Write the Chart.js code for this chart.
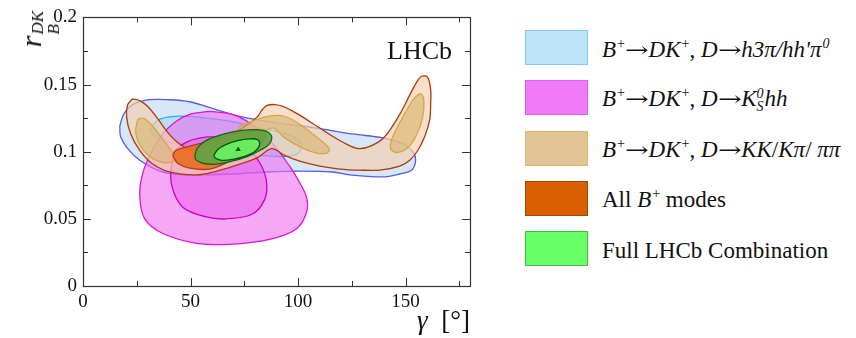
<!DOCTYPE html>
<html>
<head>
<meta charset="utf-8">
<script src="https://cdn.jsdelivr.net/npm/chart.js@4.4.1/dist/chart.umd.min.js"></script>
<style>
  html, body { margin: 0; padding: 0; background: #fff; }
  #wrap { position: relative; width: 856px; height: 338px; font-family: 'Liberation Serif', 'DejaVu Serif', serif; color: #111; }
  #chart { position: absolute; left: 0; top: 0; }
  .ytitle { position: absolute; left: 16px; top: 11px; transform-origin: 0 0; transform: rotate(-90deg) translateX(-100%); font-size: 30px; font-style: italic; white-space: nowrap; line-height: 1; }
  .stack { display: inline-flex; flex-direction: column; font-size: 17px; line-height: 0.95; vertical-align: -2px; margin-left: 1px; }
  .xtitle { position: absolute; right: 386px; top: 305px; font-size: 27px; white-space: nowrap; }
  .lhcb { position: absolute; left: 387px; top: 36px; font-size: 26px; }
  #legend { position: absolute; left: 525px; top: 30px; }
  .row { display: flex; align-items: center; height: 35px; margin-bottom: 15.3px; }
  .sw { width: 61px; height: 33px; border: 1.5px solid; }
  .lab { margin-left: 14px; font-size: 23px; padding-top: 4px; white-space: nowrap; }
  .lab sup { font-size: 14px; vertical-align: 9px; line-height: 0; margin-left: 1px; }
  .ar { display: inline-block; font-family: 'DejaVu Serif', serif; font-size: 21px; font-style: normal; transform: scaleX(1.35); margin: 0 3px; }
  .ks { display: inline-flex; flex-direction: column; font-size: 14px; line-height: 13px; vertical-align: 8px; margin-right: 1px; }
</style>
</head>
<body>
<div id="wrap">
  <canvas id="chart" width="480" height="338"></canvas>
  <div class="ytitle">r<span class="stack"><span>DK</span><span>B</span></span></div>
  <div class="xtitle"><i>γ</i>&nbsp;&nbsp;[°]</div>
  <div class="lhcb">LHCb</div>
  <div id="legend"></div>
</div>
<script>
// axis ticks
const xTickLabels = ['0', '50', '100', '150'];
const yTickLabels = ['0', '0.05', '0.1', '0.15', '0.2'];

// legend entries
const arrow = '<span class="ar">→</span>';
const seriesNames = [
  `<i>B</i><sup>+</sup>${arrow}<i>DK</i><sup>+</sup>, <i>D</i>${arrow}<i>h3π/hh'π</i><sup><i>0</i></sup>`,
  `<i>B</i><sup>+</sup>${arrow}<i>DK</i><sup>+</sup>, <i>D</i>${arrow}<i>K</i><span class="ks"><i>0</i><i>S</i></span><i>hh</i>`,
  `<i>B</i><sup>+</sup>${arrow}<i>DK</i><sup>+</sup>, <i>D</i>${arrow}<i>KK</i>/<i>Kπ</i>/ <i>ππ</i>`,
  'All <i>B</i><sup>+</sup> modes',
  'Full LHCb Combination'
];

// contours, [gamma (deg), r_B]
const h3piOuter = [[17.1,0.119],[18.9,0.1278],[23.1,0.1351],[31.0,0.1387],[40.3,0.1387],[49.6,0.1372],[58.9,0.1329],[72.9,0.1263],[88.2,0.1220],[108.7,0.1176],[125.4,0.1132],[139.4,0.1103],[148.7,0.1060],[153.4,0.1001],[154.7,0.0936],[152.9,0.0863],[147.3,0.0834],[139.4,0.0812],[124.1,0.0827],[116.1,0.0849],[100.8,0.0856],[85.4,0.0849],[69.6,0.0834],[54.3,0.0827],[46.4,0.0827],[35.7,0.0856],[26.4,0.0936],[20.8,0.1023],[17.5,0.1111],[17.1,0.119]];
const h3piInner = [[31.0,0.1154],[34.7,0.1234],[42.7,0.1263],[54.3,0.1256],[68.2,0.1227],[82.2,0.1176],[96.1,0.1125],[101.7,0.1060],[99.9,0.0987],[93.8,0.0965],[82.2,0.0972],[68.2,0.0987],[54.3,0.1016],[42.7,0.1060],[34.3,0.1103],[31.0,0.1154]];
const kshhOuter = [[58.9,0.1300],[49.6,0.1278],[42.7,0.1220],[37.1,0.1132],[31.95,0.1001],[27.8,0.0841],[26.4,0.0674],[28.7,0.0500],[37.1,0.0391],[52.9,0.0318],[68.2,0.0310],[86.8,0.0347],[99.4,0.0427],[104.0,0.0551],[104.0,0.0660],[100.8,0.0769],[96.1,0.0892],[88.2,0.1060],[78.9,0.1198],[69.6,0.1278],[58.9,0.1300]];
const kshhInner = [[57.5,0.1111],[49.6,0.1081],[44.0,0.1023],[41.3,0.0914],[41.3,0.0747],[46.4,0.0587],[57.5,0.0514],[66.8,0.0500],[78.9,0.0536],[84.5,0.0645],[85.4,0.0769],[83.1,0.0892],[78.9,0.0987],[72.9,0.1060],[65.9,0.1103],[57.5,0.1111]];
const glwOuter = [[23.1,0.1394],[26.4,0.1380],[30.1,0.1336],[34.3,0.1256],[38.5,0.1162],[43.1,0.1082],[49.6,0.1016],[56.6,0.1038],[63.6,0.1082],[70.6,0.1140],[77.5,0.1212],[81.3,0.1263],[83.1,0.1307],[85.4,0.1343],[89.2,0.1351],[93.3,0.1336],[99.4,0.1285],[108.7,0.1191],[118.0,0.1096],[124.0,0.1045],[128.7,0.1023],[134.3,0.1045],[140.3,0.1111],[147.3,0.1278],[152.0,0.1423],[155.2,0.1518],[157.5,0.1562],[160.3,0.1554],[161.7,0.1460],[161.7,0.1351],[161.3,0.1241],[158.9,0.1111],[155.7,0.1009],[152.0,0.0936],[147.3,0.0892],[138.0,0.0863],[128.7,0.0863],[119.4,0.0871],[110.1,0.0892],[100.8,0.0929],[93.8,0.0972],[87.8,0.1023],[81.3,0.0958],[72.9,0.0907],[62.2,0.0856],[52.9,0.0827],[40.3,0.0849],[31.95,0.0914],[26.4,0.1009],[22.2,0.1132],[20.3,0.1256],[20.8,0.1351],[23.1,0.1394]];
const glwInnerL = [[25.4,0.1241],[28.2,0.1249],[32.4,0.1191],[36.6,0.1103],[40.3,0.1023],[43.1,0.0965],[42.2,0.0929],[37.1,0.0921],[31.0,0.0965],[26.4,0.1052],[24.5,0.1147],[25.4,0.1241]];
const glwInnerM = [[72.9,0.1191],[79.9,0.1234],[85.9,0.1263],[91.5,0.1270],[96.1,0.1249],[100.8,0.1205],[106.8,0.1132],[111.9,0.1067],[114.7,0.1016],[112.9,0.0987],[107.8,0.0994],[100.8,0.1038],[93.8,0.1103],[88.7,0.1176],[84.5,0.1154],[77.5,0.1140],[71.9,0.1132],[72.9,0.1191]];
const glwInnerR = [[155.2,0.1416],[157.1,0.1431],[158.5,0.1387],[158.0,0.1256],[154.7,0.1111],[150.6,0.1023],[145.9,0.0994],[143.1,0.1023],[144.0,0.1111],[148.7,0.1256],[152.9,0.1372],[155.2,0.1416]];
const allBplus = [[41.7,0.0972],[43.1,0.1009],[47.3,0.1031],[54.3,0.1060],[61.3,0.1089],[70.6,0.1132],[79.9,0.1154],[84.5,0.1147],[84.5,0.1096],[77.5,0.1009],[68.2,0.0929],[58.9,0.0871],[49.6,0.0878],[44.0,0.0914],[41.7,0.0972]];
const combOuter = [[52.0,0.0972],[53.3,0.1031],[57.1,0.1082],[62.7,0.1118],[69.6,0.1147],[76.6,0.1162],[82.2,0.1162],[85.9,0.1147],[87.8,0.1111],[86.8,0.1060],[83.1,0.1016],[76.6,0.0965],[69.2,0.0929],[61.7,0.0907],[55.7,0.0914],[52.4,0.0943],[52.0,0.0972]];
const combInner = [[60.8,0.0972],[62.7,0.1016],[66.4,0.1052],[72.0,0.1082],[77.5,0.1096],[81.3,0.1089],[82.2,0.1052],[79.9,0.1001],[75.2,0.0965],[69.6,0.0943],[64.5,0.0936],[61.7,0.0951],[60.8,0.0972]];
const bestFit = [[72.2, 0.1017]];

const legendColors = [
  ['#bce3f7', '#86c9ee'],
  ['#f07af7', '#e060ea'],
  ['#e0c496', '#e2b46c'],
  ['#d95f00', '#a24800'],
  ['#66ff66', '#4cb84c']
];

// bottom layer first
const layers = [
  [h3piOuter, 'rgba(185,215,245,0.6)', 'rgb(90,90,230)'],
  [h3piInner, 'rgba(150,215,245,0.5)', 'rgb(40,175,230)'],
  [kshhOuter, 'rgba(240,110,240,0.6)', 'rgb(220,20,220)'],
  [kshhInner, 'rgba(235,80,235,0.45)', 'rgb(200,0,200)'],
  [glwOuter, 'rgba(245,208,175,0.68)', 'rgb(170,60,10)'],
  [glwInnerL, 'rgba(215,180,110,0.6)', 'rgb(215,165,70)'],
  [glwInnerM, 'rgba(215,180,110,0.6)', 'rgb(215,165,70)'],
  [glwInnerR, 'rgba(215,180,110,0.6)', 'rgb(215,165,70)'],
  [allBplus, 'rgba(235,110,35,0.92)', 'rgb(180,60,10)'],
  [combOuter, 'rgba(95,165,70,0.9)', 'rgb(20,100,20)'],
  [combInner, 'rgb(105,235,95)', 'rgb(0,90,0)']
];

const datasets = layers.map((l, i) => ({
  data: l[0].map(p => ({x: p[0], y: p[1]})),
  showLine: true,
  fill: 'shape',
  backgroundColor: l[1],
  borderColor: l[2],
  borderWidth: 1.3,
  tension: 0.35,
  pointRadius: 0,
  order: 100 - i
}));
datasets.push({
  data: bestFit.map(p => ({x: p[0], y: p[1]})),
  pointStyle: 'triangle',
  pointRadius: 3,
  backgroundColor: 'rgb(20,80,20)',
  borderColor: 'rgb(20,80,20)',
  borderWidth: 0,
  order: 0
});

// frame and inward ticks on all four sides
const frameTicks = {
  id: 'frameTicks',
  afterDraw(chart) {
    const {ctx, chartArea: a, scales: {x, y}} = chart;
    ctx.save();
    ctx.strokeStyle = '#333';
    ctx.lineWidth = 1;
    ctx.beginPath();
    for (let v = 0; v <= 180; v += 25) {
      const px = Math.round(x.getPixelForValue(v)) + 0.5;
      const len = v % 50 === 0 ? 8 : 5;
      ctx.moveTo(px, a.bottom); ctx.lineTo(px, a.bottom - len);
      ctx.moveTo(px, a.top); ctx.lineTo(px, a.top + len);
    }
    for (let k = 0; k <= 8; k++) {
      const py = Math.round(y.getPixelForValue(k * 0.025)) + 0.5;
      const len = k % 2 === 0 ? 8 : 5;
      ctx.moveTo(a.left, py); ctx.lineTo(a.left + len, py);
      ctx.moveTo(a.right, py); ctx.lineTo(a.right - len, py);
    }
    ctx.stroke();
    ctx.lineWidth = 1.2;
    ctx.strokeRect(Math.round(a.left) + 0.5, Math.round(a.top) + 0.5, Math.round(a.right - a.left), Math.round(a.bottom - a.top));
    ctx.restore();
  }
};

Chart.defaults.font.family = 'Liberation Serif';
const tickFont = { family: 'Liberation Serif', size: 19 };

new Chart(document.getElementById('chart'), {
  type: 'scatter',
  data: { datasets: datasets },
  plugins: [frameTicks],
  options: {
    responsive: false,
    animation: false,
    layout: { padding: { top: 11, right: 10, left: 0, bottom: 0 } },
    plugins: { legend: { display: false }, tooltip: { enabled: false } },
    scales: {
      x: {
        min: 0, max: 180,
        grid: { display: false, drawTicks: false },
        border: { display: false },
        afterFit: s => { s.height = 52; },
        afterBuildTicks: s => { s.ticks = xTickLabels.map(t => ({value: Number(t)})); },
        ticks: { padding: 5, color: '#111', font: tickFont, maxRotation: 0,
          callback: (v) => xTickLabels.find(t => Number(t) === v) }
      },
      y: {
        min: 0, max: 0.2,
        grid: { display: false, drawTicks: false },
        border: { display: false },
        afterFit: s => { s.width = 83; },
        afterBuildTicks: s => { s.ticks = yTickLabels.map(t => ({value: Number(t)})); },
        ticks: { padding: 6, color: '#111', font: tickFont,
          callback: (v) => yTickLabels.find(t => Number(t) === v) }
      }
    }
  }
});

// html legend, built from the series names and colours
const legend = document.getElementById('legend');
legend.innerHTML = seriesNames.map((name, i) =>
  `<div class="row"><div class="sw" style="background:${legendColors[i][0]};border-color:${legendColors[i][1]}"></div>` +
  `<div class="lab">${name}</div></div>`).join('');
</script>
</body>
</html>
